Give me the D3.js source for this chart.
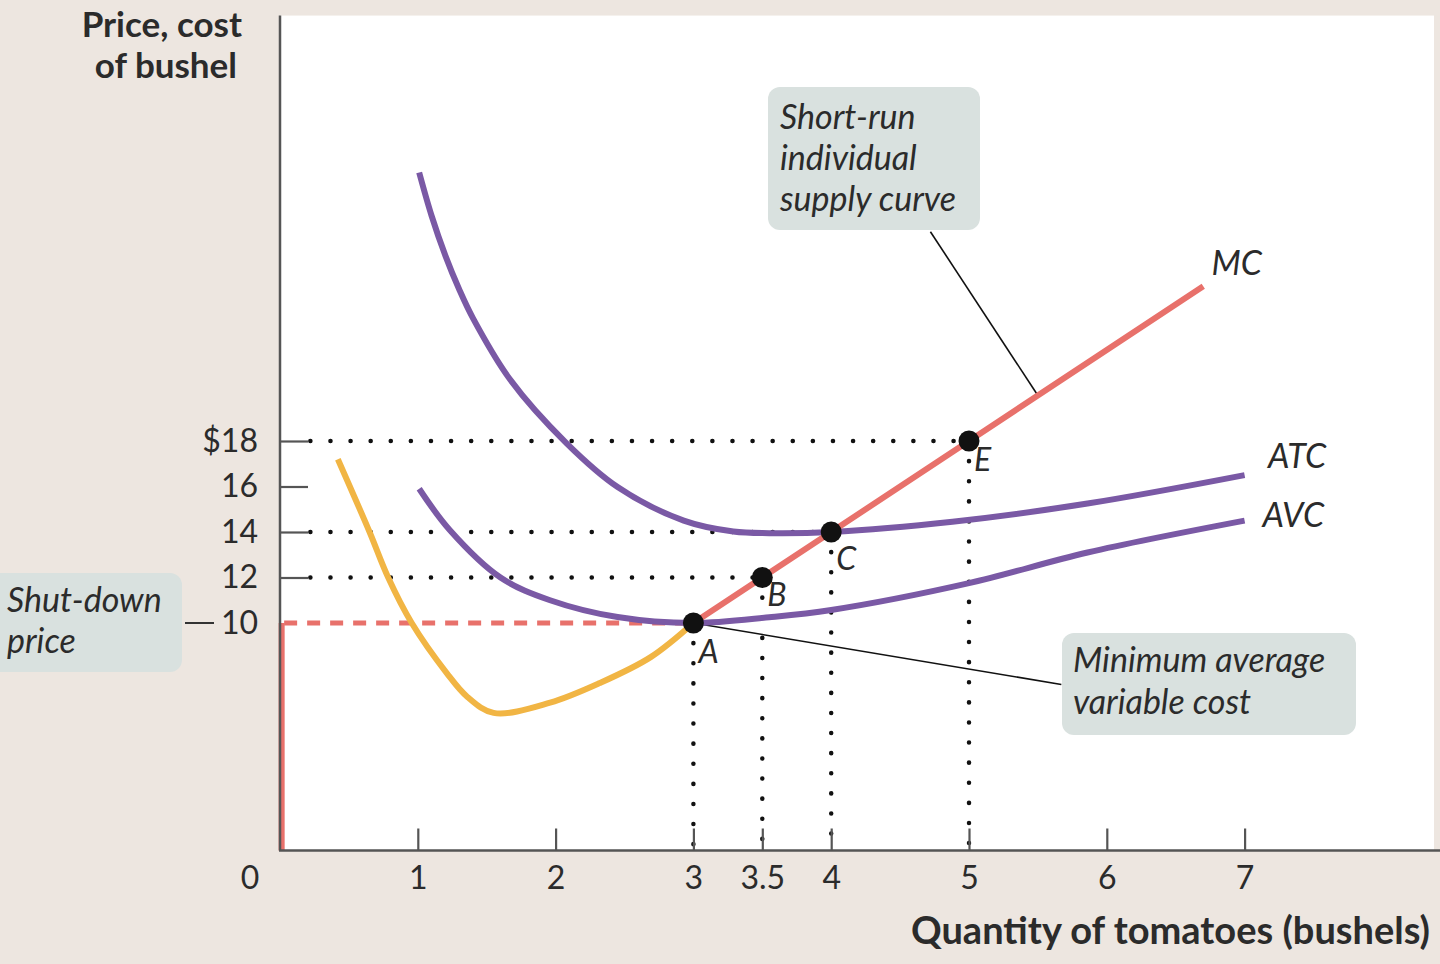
<!DOCTYPE html>
<html><head><meta charset="utf-8">
<script src="https://cdn.jsdelivr.net/npm/d3@7"></script>
<style>
html,body{margin:0;padding:0;background:#ede6e0;}
svg{display:block;}
text{font-family:Lato,"Open Sans",sans-serif;fill:#2b2b2b;}
</style></head><body>
<svg id="chart" width="1440" height="964"></svg>
<script>
// ---- data ----
const xTicks = [1, 2, 3, 3.5, 4, 5, 6, 7];
const xTickLabels = ["1", "2", "3", "3.5", "4", "5", "6", "7"];
const yTicks = [12, 14, 16, 18];
const yTickLabels = ["12", "14", "16", "$18"];
const shutdownPrice = 10;

// MC below minimum AVC (yellow part) — quantity, price
const mcLowQ = [0.42, 0.65, 0.785, 0.956, 1.21, 1.36, 1.55, 1.96, 2.32, 2.69, 3.0];
const mcLowP = [17.2, 14.0, 12.0, 10.0, 7.8, 6.75, 6.05, 6.5, 7.36, 8.5, 10.0];
// MC above minimum AVC (short-run supply, red part)
const mcHighQ = [3.0, 3.5, 4.0, 5.0, 6.7];
const mcHighP = [10.0, 12.0, 14.0, 18.0, 24.8];

const atcQ = [1.01, 1.1, 1.2, 1.3, 1.40, 1.67, 2.08, 2.45, 2.93, 3.29, 3.55, 4.0, 4.88, 5.86, 7.0];
const atcP = [29.8, 27.9, 26.15, 24.67, 23.4, 20.7, 17.9, 15.98, 14.5, 14.02, 13.95, 14.0, 14.45, 15.25, 16.5];

const avcQ = [1.01, 1.23, 1.60, 1.96, 2.45, 3.0, 3.55, 4.0, 5.0, 5.86, 7.0];
const avcP = [15.9, 14.1, 12.0, 11.0, 10.26, 10.0, 10.25, 10.57, 11.75, 13.1, 14.5];

const pointNames = ["A", "B", "C", "E"];
const pointQ = [3, 3.5, 4, 5];
const pointP = [10, 12, 14, 18];

// ---- setup ----
const svg = d3.select("#chart");
const x = d3.scaleLinear().domain([0, 8.418]).range([280, 1440]);
const y = d3.scaleLinear().domain([0, 37]).range([850.5, 850.5 - 37 * 22.75]);

const PURPLE = "#7a59a5", RED = "#e8716b", YELLOW = "#f1b544", BOX = "#d9e1df";

// white plot panel
svg.append("rect").attr("x", x(0)).attr("y", y(36.7))
  .attr("width", 1434 - x(0)).attr("height", y(0) - y(36.7)).attr("fill", "#ffffff");

const zip = (qs, ps) => qs.map((q, i) => [q, ps[i]]);
const line = d3.line().x(d => x(d[0])).y(d => y(d[1])).curve(d3.curveCatmullRom.alpha(0.5));
const straight = d3.line().x(d => x(d[0])).y(d => y(d[1]));

// dotted guide lines
const dotStyle = s => s.attr("stroke", "#111").attr("stroke-width", 4.5)
  .attr("stroke-dasharray", "0.1 20").attr("stroke-linecap", "round").attr("fill", "none");
const hStart = 0.22;
[1, 2, 3].forEach(i => {
  dotStyle(svg.append("path").attr("d", straight([[hStart, pointP[i]], [pointQ[i], pointP[i]]])));
});
pointQ.forEach((q, i) => {
  dotStyle(svg.append("path").attr("d", straight([[q, pointP[i]], [q, 0]])));
});

// red dashed shut-down line
svg.append("path").attr("d", straight([[0.03, shutdownPrice], [pointQ[0], shutdownPrice]]))
  .attr("stroke", RED).attr("stroke-width", 5).attr("stroke-dasharray", "13 10").attr("fill", "none");

// annotation leader lines
svg.append("path").attr("d", straight([[pointQ[0], pointP[0]], [5.67, 7.3]]))
  .attr("stroke", "#111").attr("stroke-width", 1.6).attr("fill", "none");
svg.append("path").attr("d", straight([[4.72, 27.2], [5.5, 20]]))
  .attr("stroke", "#111").attr("stroke-width", 1.6).attr("fill", "none");

// curves
svg.append("path").attr("d", line(zip(atcQ, atcP))).attr("stroke", PURPLE).attr("stroke-width", 6).attr("fill", "none");
svg.append("path").attr("d", line(zip(avcQ, avcP))).attr("stroke", PURPLE).attr("stroke-width", 6).attr("fill", "none");
svg.append("path").attr("d", line(zip(mcLowQ, mcLowP))).attr("stroke", YELLOW).attr("stroke-width", 6).attr("fill", "none");
svg.append("path").attr("d", straight(zip(mcHighQ, mcHighP))).attr("stroke", RED).attr("stroke-width", 6).attr("fill", "none");

// red vertical supply segment at Q = 0
svg.append("path").attr("d", straight([[0.012, 0], [0.012, shutdownPrice]]))
  .attr("stroke", RED).attr("stroke-width", 6).attr("fill", "none");

// axes
const axisColor = "#555";
svg.append("line").attr("x1", x(0)).attr("x2", x(0)).attr("y1", y(36.7)).attr("y2", y(0))
  .attr("stroke", axisColor).attr("stroke-width", 2.5);
svg.append("line").attr("x1", x(0) - 1).attr("x2", 1440).attr("y1", y(0)).attr("y2", y(0))
  .attr("stroke", axisColor).attr("stroke-width", 2.5);

const xAxis = d3.axisBottom(x).tickValues(xTicks).tickSize(-22).tickPadding(14)
  .tickFormat((d, i) => xTickLabels[i]);
const gx = svg.append("g").attr("transform", `translate(0,${y(0)})`).call(xAxis);
gx.select(".domain").remove();
gx.selectAll(".tick line").attr("stroke", axisColor).attr("stroke-width", 2.2);
gx.selectAll(".tick text").attr("font-size", 32).attr("fill", "#2b2b2b")
  .style("font-family", "Lato, sans-serif").attr("dy", "0.71em").attr("y", 16);

const yAxis = d3.axisLeft(y).tickValues(yTicks).tickSize(-28).tickPadding(22)
  .tickFormat((d, i) => yTickLabels[i]);
const gy = svg.append("g").attr("transform", `translate(${x(0)},0)`).call(yAxis);
gy.select(".domain").remove();
gy.selectAll(".tick line").attr("stroke", axisColor).attr("stroke-width", 2.2);
gy.selectAll(".tick text").attr("font-size", 32).attr("fill", "#2b2b2b")
  .style("font-family", "Lato, sans-serif");

// origin label
svg.append("text").attr("x", 250).attr("y", y(0) + 16).attr("dy", "0.71em")
  .attr("text-anchor", "middle").attr("font-size", 32).text("0");

// shutdown tick label "—10"
svg.append("line").attr("x1", 185).attr("x2", 214).attr("y1", y(shutdownPrice)).attr("y2", y(shutdownPrice))
  .attr("stroke", "#333").attr("stroke-width", 2);
svg.append("text").attr("x", 258).attr("y", y(shutdownPrice)).attr("dy", "0.35em")
  .attr("text-anchor", "end").attr("font-size", 32).text("10");

// axis titles
const yt = svg.append("text").attr("text-anchor", "end").attr("font-weight", "bold").attr("font-size", 35);
yt.append("tspan").attr("x", 242).attr("y", 37).text("Price, cost");
yt.append("tspan").attr("x", 237).attr("y", 78).text("of bushel");
svg.append("text").attr("x", 1430).attr("y", 944).attr("text-anchor", "end")
  .attr("font-weight", "bold").attr("font-size", 38).text("Quantity of tomatoes (bushels)");

// points
const labelDy = [40, 28, 38, 30];
pointQ.forEach((q, i) => {
  svg.append("circle").attr("cx", x(q)).attr("cy", y(pointP[i])).attr("r", 10.5).attr("fill", "#111");
  svg.append("text").attr("x", x(q) + 5).attr("y", y(pointP[i]) + labelDy[i])
    .attr("font-style", "italic").attr("font-size", 32).text(pointNames[i]);
});

// curve labels
const curveLabel = (t, q, p) => svg.append("text").attr("x", x(q)).attr("y", y(p))
  .attr("font-style", "italic").attr("font-size", 34).text(t);
curveLabel("MC", 6.76, 25.3);
curveLabel("ATC", 7.17, 16.8);
curveLabel("AVC", 7.13, 14.2);

// callout boxes
function callout(x0, y0, w, h, lines, tx, ty, lh) {
  svg.append("rect").attr("x", x0).attr("y", y0).attr("width", w).attr("height", h)
    .attr("rx", 12).attr("fill", BOX);
  const t = svg.append("text").attr("font-style", "italic").attr("font-size", 34).attr("fill", "#333");
  lines.forEach((s, i) => t.append("tspan").attr("x", tx).attr("y", ty + i * lh).text(s));
}
callout(768, 87, 212, 143, ["Short-run", "individual", "supply curve"], 780, 129, 41);
callout(1062, 633, 294, 102, ["Minimum average", "variable cost"], 1073, 672, 42);
callout(-12, 573, 194, 99, ["Shut-down", "price"], 7, 612, 41);
</script>
</body></html>
